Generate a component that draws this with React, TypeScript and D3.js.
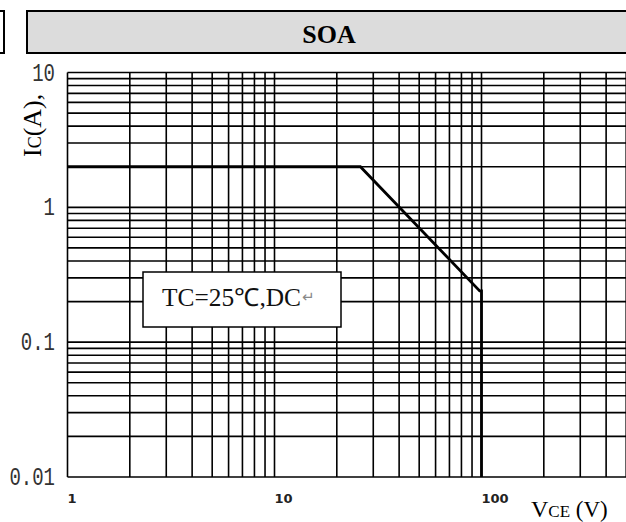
import * as d3 from 'd3';

// SOA boundary (DC, Tc = 25°C)
const soaVce = [1, 26, 98, 100, 100];
const soaIc = [2, 2, 0.24, 0.24, 0.01];

const xTickValues = [1, 10, 100];
const xTickLabels = ['1', '10', '100'];
const yTickValues = [10, 1, 0.1, 0.01];
const yTickLabels = ['10', '1', '0.1', '0.01'];

const W = 626;
const H = 522;

export default function App() {
  // log scales, plot runs off the right edge of the page
  const x = d3.scaleLog().domain([1, 1000]).range([67.5, 688.5]);
  const y = d3.scaleLog().domain([0.01, 10]).range([477, 72.5]);

  const xGrid = x.ticks();
  const yGrid = y.ticks();

  const pts = soaVce.map((v, i) => [x(v), y(soaIc[i])] as [number, number]);
  const path = d3.line()(pts) ?? '';

  return (
    <svg
      width={W}
      height={H}
      style={{ position: 'absolute', left: 0, top: 0, background: '#fff' }}
    >
      {/* header */}
      <rect x={-20} y={11} width={24} height={42} fill="#fff" stroke="#000" strokeWidth={2} />
      <rect x={27} y={11} width={660} height={42} fill="#dcdcdc" stroke="#000" strokeWidth={2} />
      <text
        x={329}
        y={43}
        textAnchor="middle"
        fontFamily="'Liberation Serif', serif"
        fontWeight="bold"
        fontSize={26}
      >
        SOA
      </text>

      {/* grid */}
      <g stroke="#000" strokeWidth={1.6}>
        {xGrid.map((v, i) => (
          <line key={'x' + i} x1={x(v)} x2={x(v)} y1={y(10)} y2={y(0.01)} />
        ))}
        {yGrid.map((v, i) => (
          <line key={'y' + i} x1={x(1)} x2={x(1000)} y1={y(v)} y2={y(v)} />
        ))}
      </g>

      {/* y tick labels */}
      {yTickValues.map((v, i) => (
        <text
          key={'yl' + i}
          transform={`translate(55, ${y(v) + 8}) scale(1, 1.35)`}
          textAnchor="end"
          fontFamily="'Liberation Mono', monospace"
          fontSize={19}
          fill="#333"
        >
          {yTickLabels[i]}
        </text>
      ))}

      {/* x tick labels */}
      {xTickValues.map((v, i) => (
        <text
          key={'xl' + i}
          x={x(v)}
          y={503}
          fontFamily="'DejaVu Sans', sans-serif"
          fontWeight="bold"
          fontSize={13}
          fill="#222"
        >
          {xTickLabels[i]}
        </text>
      ))}

      {/* SOA curve */}
      <path d={path} fill="none" stroke="#000" strokeWidth={2.8} strokeLinejoin="miter" />

      {/* condition box */}
      <rect x={143} y={272} width={198} height={55} fill="#fff" stroke="#000" strokeWidth={1.5} />
      <text
        x={162}
        y={306}
        fontFamily="'Liberation Serif', serif"
        fontSize={25}
        textLength={139}
        lengthAdjust="spacingAndGlyphs"
        fill="#111"
      >
        TC=25℃,DC
      </text>
      <text x={302} y={302} fontFamily="'DejaVu Sans', sans-serif" fontSize={15} fill="#888">
        ↵
      </text>

      {/* axis titles */}
      <text
        transform="translate(41, 157) rotate(-90)"
        fontFamily="'Liberation Serif', serif"
        fontSize={26}
        fill="#000"
      >
        I<tspan fontSize={18}>C</tspan>(A),
      </text>
      <text x={531} y={517} fontFamily="'Liberation Serif', serif" fontSize={24} fill="#000">
        V<tspan fontSize={17}>CE</tspan>
        <tspan fontSize={23}> (V)</tspan>
      </text>
    </svg>
  );
}
